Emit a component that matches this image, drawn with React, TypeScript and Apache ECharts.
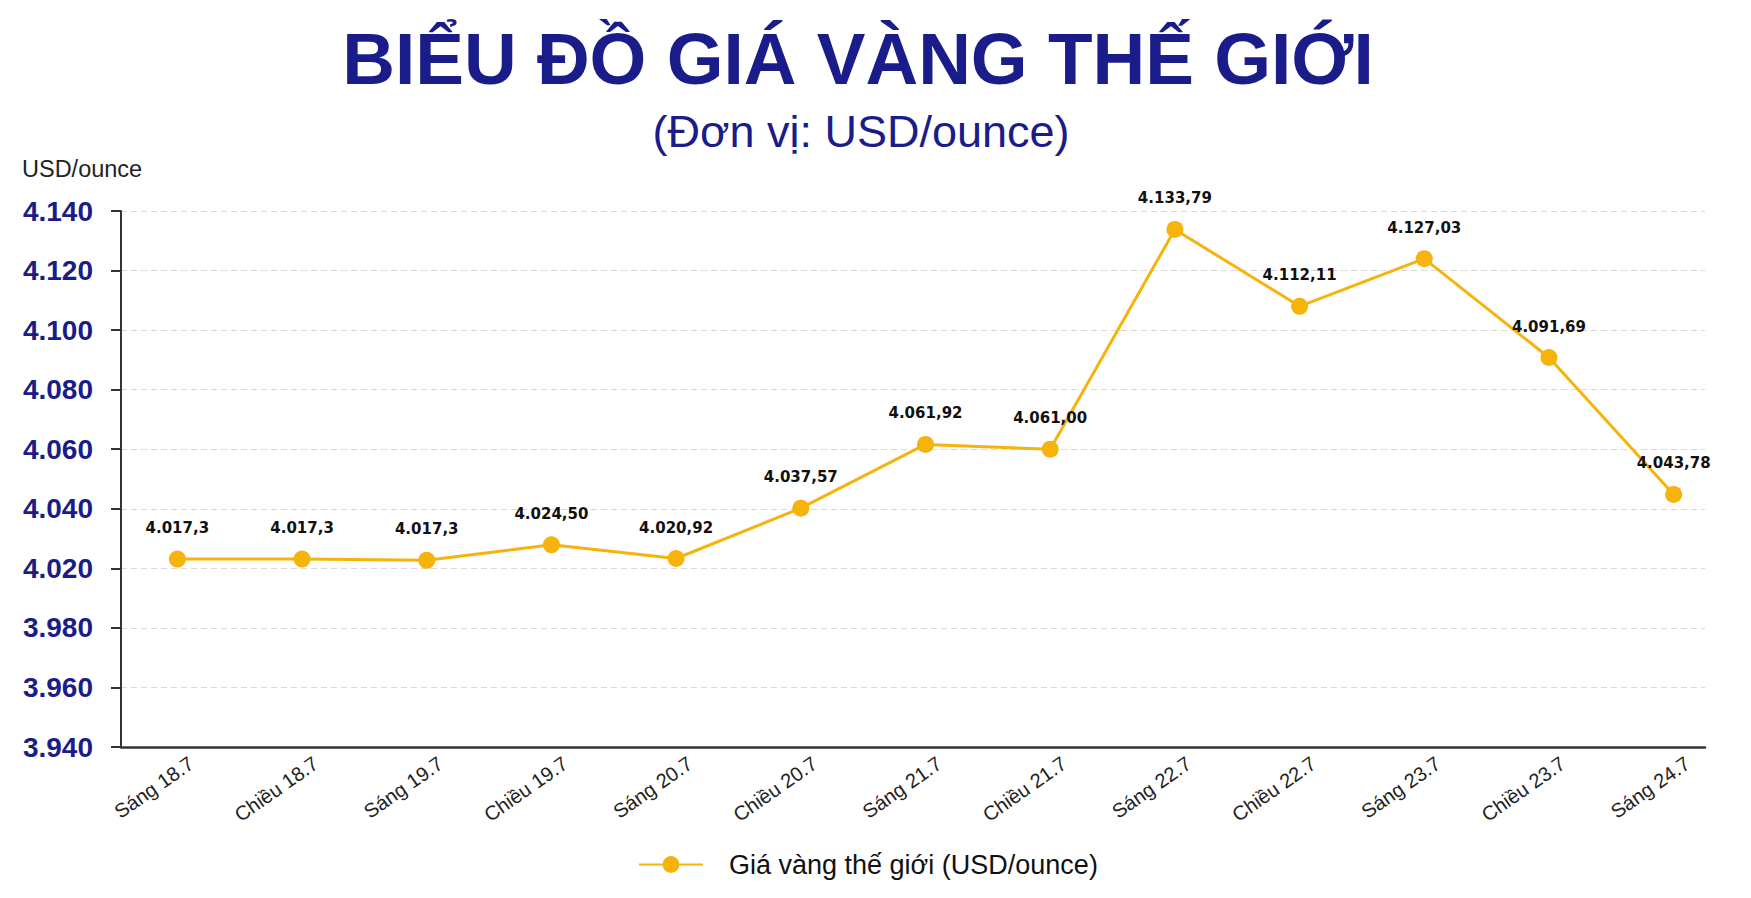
import React, { useEffect, useRef } from "react";
import * as echarts from "echarts";

const categories = [
  "Sáng 18.7", "Chiều 18.7", "Sáng 19.7", "Chiều 19.7", "Sáng 20.7", "Chiều 20.7",
  "Sáng 21.7", "Chiều 21.7", "Sáng 22.7", "Chiều 22.7", "Sáng 23.7", "Chiều 23.7", "Sáng 24.7",
];
// values as plotted in the picture (positions read against the axis)
const plottedValues = [4023.1, 4023.1, 4022.7, 4027.9, 4023.3, 4040.2, 4061.6, 4060.0, 4133.8, 4108.0, 4124.0, 4090.8, 4044.8];
// value labels as printed in the picture
const valueLabels = [
  "4.017,3", "4.017,3", "4.017,3", "4.024,50", "4.020,92", "4.037,57",
  "4.061,92", "4.061,00", "4.133,79", "4.112,11", "4.127,03", "4.091,69", "4.043,78",
];
// y tick labels as printed (bottom to top)
const yTickLabels = ["3.940", "3.960", "3.980", "4.020", "4.040", "4.060", "4.080", "4.100", "4.120", "4.140"];
const yMin = 3960;
const yMax = 4140;
const yStep = 20;

const seriesName = "Giá vàng thế giới (USD/ounce)";
const titleText = "BIỂU ĐỒ GIÁ VÀNG THẾ GIỚI";
const subtitleText = "(Đơn vị: USD/ounce)";
const unitText = "USD/ounce";

const NAVY = "#1a1c8a";
const GOLD = "#F5B30C";
const FONT = "'Liberation Sans', Arial, Helvetica, sans-serif";

export default function App() {
  const ref = useRef<HTMLDivElement>(null);

  useEffect(() => {
    if (!ref.current) return;
    const chart = echarts.init(ref.current, undefined, { renderer: "svg" });
    const option: any = {
      animation: false,
      backgroundColor: "#ffffff",
      textStyle: { fontFamily: FONT },
      graphic: [
        {
          type: "text",
          style: {
            text: titleText,
            x: 858,
            y: 58,
            textAlign: "center",
            textVerticalAlign: "middle",
            fontFamily: FONT,
            fontWeight: "bold",
            fontSize: 73,
            fill: NAVY,
          },
        },
        {
          type: "text",
          style: {
            text: subtitleText,
            x: 861,
            y: 131,
            textAlign: "center",
            textVerticalAlign: "middle",
            fontFamily: FONT,
            fontSize: 45,
            fill: NAVY,
          },
        },
        {
          type: "text",
          style: {
            text: unitText,
            x: 22,
            y: 169,
            textAlign: "left",
            textVerticalAlign: "middle",
            fontFamily: FONT,
            fontSize: 23.5,
            fill: "#222222",
          },
        },
      ],
      legend: {
        data: [seriesName],
        left: 633,
        top: 846,
        itemWidth: 64,
        itemHeight: 21,
        textStyle: { fontSize: 27, color: "#111111", fontFamily: FONT, padding: [0, 0, 0, 21] },
      },
      grid: [
        { left: 115, right: 15, top: 211, bottom: 151 },
        { left: 121, right: 46, top: 211, bottom: 151 },
      ],
      xAxis: [
        {
          gridIndex: 0,
          type: "category",
          data: categories,
          boundaryGap: true,
          axisLine: { show: false },
          axisTick: { show: false },
          splitLine: { show: false },
          axisLabel: {
            interval: 0,
            rotate: 35,
            margin: 24,
            fontSize: 20,
            color: "#222222",
            fontFamily: FONT,
            padding: [0, -17, 0, 0],
          },
        },
        {
          gridIndex: 1,
          type: "value",
          min: 0,
          max: 1,
          axisLine: { show: true, lineStyle: { color: "#333333", width: 2.5 } },
          axisTick: { show: false },
          axisLabel: { show: false },
          splitLine: { show: false },
        },
      ],
      yAxis: [
        {
          gridIndex: 0,
          type: "value",
          min: yMin,
          max: yMax,
          interval: yStep,
          show: false,
          splitLine: { show: false },
        },
        {
          gridIndex: 1,
          type: "value",
          min: yMin,
          max: yMax,
          interval: yStep,
          axisLine: { show: true, lineStyle: { color: "#333333", width: 2 } },
          axisTick: { show: true, length: 10, lineStyle: { color: "#333333", width: 2 } },
          axisLabel: {
            margin: 28,
            fontSize: 28,
            fontWeight: "bold",
            color: NAVY,
            fontFamily: FONT,
            formatter: (v: number) => {
              const i = Math.round((v - yMin) / yStep);
              return yTickLabels[i] ?? "";
            },
          },
          splitLine: { show: true, lineStyle: { color: "#d8d8d8", type: [6, 4], width: 1 } },
        },
      ],
      series: [
        {
          name: seriesName,
          type: "line",
          xAxisIndex: 0,
          yAxisIndex: 0,
          data: plottedValues,
          symbol: "circle",
          symbolSize: 17,
          itemStyle: { color: GOLD },
          lineStyle: { color: GOLD, width: 3 },
          label: {
            show: true,
            position: "top",
            distance: 15,
            fontFamily: "'DejaVu Sans', sans-serif",
            fontWeight: "bold",
            fontSize: 15,
            color: "#111111",
            formatter: (p: any) => valueLabels[p.dataIndex],
          },
        },
      ],
    };
    chart.setOption(option);
    return () => chart.dispose();
  }, []);

  return (
    <div
      ref={ref}
      style={{ position: "fixed", left: 0, top: 0, width: 1751, height: 898, background: "#fff" }}
    />
  );
}
